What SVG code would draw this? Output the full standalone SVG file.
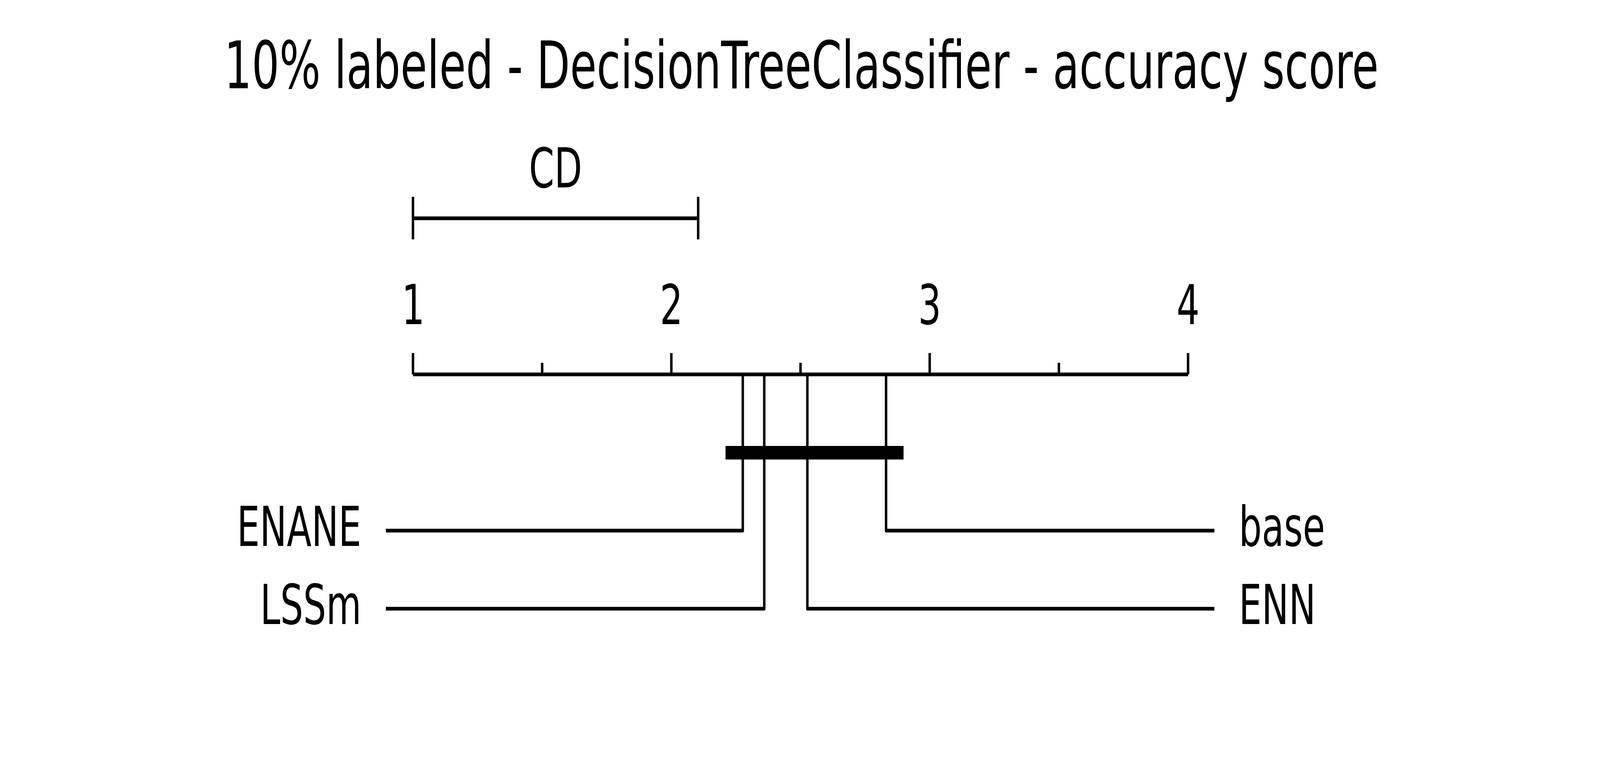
<svg xmlns="http://www.w3.org/2000/svg" width="6199" height="1959" viewBox="0 0 6199 1959" preserveAspectRatio="none">
<style>
svg{width:100vw;height:100vh;display:block}
text{font-family:"DejaVu Sans","Liberation Sans",sans-serif;fill:#000}
.lbl{font-size:140px}
.ttl{font-size:168px}
.ln{fill:none;stroke:#000;stroke-width:9.5;stroke-linejoin:round;stroke-linecap:butt}
</style>
<rect width="6199" height="1959" fill="#fff"/>
<g id="title"><text class="ttl" x="3105" y="226" text-anchor="middle">10% labeled - DecisionTreeClassifier - accuracy score</text></g>
<g id="cd">
<path class="ln" d="M1600,559H2705M1600,504V613M2705,504V613"/>
<text class="lbl" x="2152.5" y="480" text-anchor="middle">CD</text>
</g>
<g id="axis">
<path class="ln" d="M1600,958.7H4603M1600,904V958.7M2601,904V958.7M3602,904V958.7M4603,904V958.7M2100.5,929V958.7M3101.5,929V958.7M4102.5,929V958.7"/>
<text class="lbl" x="1601" y="830" text-anchor="middle">1</text>
<text class="lbl" x="2601" y="830" text-anchor="middle">2</text>
<text class="lbl" x="3602" y="830" text-anchor="middle">3</text>
<text class="lbl" x="4603" y="830" text-anchor="middle">4</text>
</g>
<g id="connectors">
<path class="ln" d="M2877.8,958.7V1358.7H1495"/>
<path class="ln" d="M2961,958.7V1558.7H1495"/>
<path class="ln" d="M3128,958.7V1558.7H4705"/>
<path class="ln" d="M3433,958.7V1358.7H4705"/>
<rect x="2811" y="1142" width="689.7" height="34.7" fill="#000"/>
</g>
<g id="node-ENANE"><text class="lbl" x="1400" y="1398" text-anchor="end">ENANE</text></g>
<g id="node-LSSm"><text class="lbl" x="1400" y="1598" text-anchor="end">LSSm</text></g>
<g id="node-base"><text class="lbl" x="4800" y="1398">base</text></g>
<g id="node-ENN"><text class="lbl" x="4800" y="1598">ENN</text></g>
</svg>
